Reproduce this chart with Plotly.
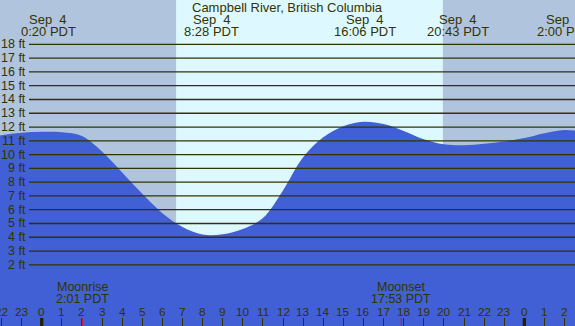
import plotly.graph_objects as go

# ---- data ----
title = "Campbell River, British Columbia"
hours = [-3, -2, -1, 0, 1, 2, 3, 4, 5, 6, 7, 8, 9, 10, 11, 12, 13, 14, 15,
         16, 17, 18, 19, 20, 21, 22, 23, 24, 25, 26, 27]
heights = [11.1, 11.4, 11.58, 11.66, 11.62, 11.35, 10.22, 8.7, 7.15, 5.75,
           4.75, 4.2, 4.22, 4.6, 5.4, 7.4, 9.8, 11.25, 12.05, 12.38, 12.22,
           11.72, 11.12, 10.75, 10.68, 10.78, 10.95, 11.2, 11.55, 11.78, 11.65]
extreme_hours = [0 + 20/60, 8 + 28/60, 16 + 6/60, 20 + 43/60, 26 + 0/60]
extreme_dates = ["Sep  4", "Sep  4", "Sep  4", "Sep  4", "Sep  5"]
extreme_labels = ["0:20 PDT", "8:28 PDT", "16:06 PDT", "20:43 PDT", "2:00 PDT"]
moon_hours = [2 + 1/60, 17 + 53/60, 27 + 17/60]
moon_names = ["Moonrise", "Moonset", "Moonrise"]
moon_labels = ["2:01 PDT", "17:53 PDT", "3:17 PDT"]
sunrise = 6 + 41/60
sunset = 19 + 57/60
midnights = [0, 24]
ft_ticks = list(range(2, 19))
hour_ticks = list(range(-2, 27))
hour_text = [str(h % 24) for h in hour_ticks]

# ---- styling ----
W, H = 575, 326
X_RANGE = [-2.074, 26.52]
Y_RANGE = [-2.44, 21.22]
NIGHT = "#B0C4DE"
DAY = "#DDF9FF"
WATER = "#4160D5"
INK = "#333300"
FONT = "Liberation Sans, Arial, sans-serif"


def py(px):
    return 1 - px / H


fig = go.Figure()
fig.add_trace(go.Scatter(x=[hours[0], hours[-1]], y=[Y_RANGE[0] - 5] * 2,
                         mode="lines", line=dict(width=0), hoverinfo="skip",
                         showlegend=False))
fig.add_trace(go.Scatter(x=hours, y=heights, mode="lines",
                         line=dict(color=WATER, width=0, shape="spline"),
                         fill="tonexty", fillcolor=WATER, showlegend=False))

shapes = []
# night shading
shapes.append(dict(type="rect", xref="x", yref="paper", x0=X_RANGE[0] - 1, x1=sunrise,
                   y0=0, y1=1, fillcolor=NIGHT, line=dict(width=0), layer="below"))
shapes.append(dict(type="rect", xref="x", yref="paper", x0=sunset, x1=X_RANGE[1] + 1,
                   y0=0, y1=1, fillcolor=NIGHT, line=dict(width=0), layer="below"))
# horizontal gridlines
for v in ft_ticks:
    shapes.append(dict(type="line", xref="paper", yref="y", x0=29 / W, x1=1,
                       y0=v, y1=v, line=dict(color=INK, width=1.3)))
# midnight ticks
for m in midnights:
    shapes.append(dict(type="line", xref="x", yref="paper", x0=m, x1=m,
                       y0=0, y1=8 / H, line=dict(color="#222200", width=3.3)))
# moon ticks
for m in moon_hours:
    shapes.append(dict(type="line", xref="x", yref="paper", x0=m, x1=m,
                       y0=0, y1=8 / H, line=dict(color="#FF0000", width=1)))

ann = []
f_top = dict(family=FONT, size=13, color=INK)
f_mid = dict(family=FONT, size=12.5, color=INK)
f_hr = dict(family=FONT, size=11.8, color=INK)
ann.append(dict(text=title, xref="paper", yref="paper", x=287.5 / W, y=py(7.3),
                xanchor="center", yanchor="middle", showarrow=False, font=f_top))
for h, d, t in zip(extreme_hours, extreme_dates, extreme_labels):
    ann.append(dict(text=d.replace(" ", "\u00a0"), xref="x", yref="paper", x=h, y=py(19.5),
                    xanchor="center", yanchor="middle", showarrow=False, font=f_top))
    ann.append(dict(text=t, xref="x", yref="paper", x=h, y=py(31.5),
                    xanchor="center", yanchor="middle", showarrow=False, font=f_top))
for h, n, t in zip(moon_hours, moon_names, moon_labels):
    ann.append(dict(text=n, xref="x", yref="paper", x=h, y=py(287.3),
                    xanchor="center", yanchor="middle", showarrow=False, font=f_mid))
    ann.append(dict(text=t, xref="x", yref="paper", x=h, y=py(299.3),
                    xanchor="center", yanchor="middle", showarrow=False, font=f_mid))
for v in ft_ticks:
    ann.append(dict(text=f"{v} ft", xref="paper", yref="y", x=27.5 / W, y=v,
                    xanchor="right", yanchor="middle", showarrow=False, font=f_mid))
for h, t in zip(hour_ticks, hour_text):
    ann.append(dict(text=t, xref="x", yref="paper", x=h, y=py(311.7),
                    xanchor="center", yanchor="middle", showarrow=False, font=f_hr))

fig.update_layout(
    width=W, height=H, autosize=False,
    margin=dict(l=0, r=0, t=0, b=0),
    paper_bgcolor=DAY, plot_bgcolor=DAY,
    shapes=shapes, annotations=ann,
    xaxis=dict(range=X_RANGE, showgrid=False, zeroline=False, showline=False,
               tickmode="array", tickvals=hour_ticks, ticktext=[""] * len(hour_ticks),
               ticks="inside", ticklen=8, tickwidth=1, tickcolor=INK,
               showticklabels=False, fixedrange=True),
    yaxis=dict(range=Y_RANGE, visible=False, fixedrange=True),
    showlegend=False,
)

fig.write_html("out.html", config=dict(displayModeBar=False),
               post_script="document.body.style.margin='0';"
                           "document.body.style.overflow='hidden';")
